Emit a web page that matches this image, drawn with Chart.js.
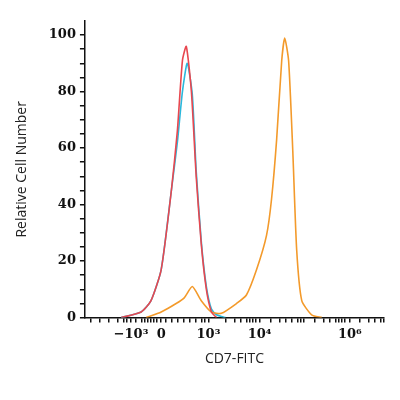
<!DOCTYPE html>
<html><head><meta charset="utf-8">
<script src="https://cdn.jsdelivr.net/npm/chart.js@4"></script>
<style>html,body{margin:0;background:#fff}#wrap{width:400px;height:400px}</style>
</head><body><div id="wrap"><canvas id="c"></canvas></div>
<script>
// x in display units (0..100 across the biexponential axis)
const redX    = [12.1,18.8,22.1,25.5,28.9,30.9,32.6,33.9,35.6,37.2,38.9,40.6,42.3,44.0];
const redY    = [0,   2,   6,   17,  45,  66,  91,  96,  80,  50,  26,  10,  2,   0];
const cyanX   = [12.1,18.8,22.1,25.5,28.9,30.9,32.6,34.2,35.9,37.2,38.9,40.6,42.3,44.0,47.0];
const cyanY   = [0,   2,   6,   17,  45,  62,  80,  90,  79,  52,  27,  11,  3,   1,   0];
const orangeX = [20.5,25.5,30.5,33.2,35.9,38.9,42.3,45.6,50.7,54.0,57.4,60.7,62.4,64.1,65.8,66.8,68.1,69.5,70.8,72.5,75.8,79.2];
const orangeY = [0,   2,   5,   7,   11,  6,   2,   1.5, 5,   8,   17,  29,  42,  63,  91,  99,  91,  59,  24,  6,   1,   0];
const xTickPos    = [15.4,25.5,41.3,58.4,88.6];
const xTickLabels = ['\u221210\u00b3','0','10\u00b3','10\u2074','10\u2076'];
const xMinorPos = [2,5,8,11,13,14,17,19,20,21,22,23,24,27,29,31,33,35,37,39,40,47,50,52,54,55,56,57,62,65,67,69,71,72,73,77,80,82,84,85,86,87,92,95,97,99,100];

const pts = (xs, ys) => xs.map((x,i)=>({x, y:ys[i]}));
const line = (xs, ys, color) => ({data:pts(xs,ys), borderColor:color, borderWidth:1.6, pointRadius:0, tension:0.2, fill:false});

const tickFont = {family:'DejaVu Serif', weight:'bold', size:13};
new Chart(document.getElementById('c'), {
  type:'line',
  data:{datasets:[
    line(redX, redY, '#e8474f'),
    line(orangeX, orangeY, '#f39a2b'),
    line(cyanX, cyanY, '#2bb8dc'),
  ]},
  options:{
    responsive:true, maintainAspectRatio:false, animation:false,
    layout:{padding:{top:21,right:16,left:10,bottom:29}},
    plugins:{legend:{display:false}, tooltip:{enabled:false}},
    scales:{
      x:{type:'linear', min:0, max:100,
        afterBuildTicks:s=>{ s.ticks = xTickPos.concat(xMinorPos).map(v=>({value:v})); },
        ticks:{autoSkip:false, maxRotation:0, color:'#111', font:tickFont, padding:4,
          callback:v=>{ const i = xTickPos.indexOf(v); return i<0 ? '' : xTickLabels[i]; }},
        grid:{drawOnChartArea:false, color:'#111', tickLength:5, lineWidth:1.5},
        border:{color:'#111', width:1.5},
        title:{display:true, text:'CD7-FITC', color:'#222', font:{family:'Open Sans', size:14}, padding:{top:4}}
      },
      y:{min:0, max:105,
        afterBuildTicks:s=>{ const t=[]; for(let v=0;v<=100;v+=5) t.push({value:v}); s.ticks=t; },
        ticks:{autoSkip:false, color:'#111', font:tickFont, padding:4,
          callback:v=> v%20===0 ? v : ''},
        grid:{drawOnChartArea:false, color:'#111', tickLength:5, lineWidth:1.5},
        border:{color:'#111', width:1.5},
        title:{display:true, text:'Relative Cell Number', color:'#222', font:{family:'Open Sans', size:14}, padding:{bottom:14}}
      }
    }
  }
});
</script></body></html>
